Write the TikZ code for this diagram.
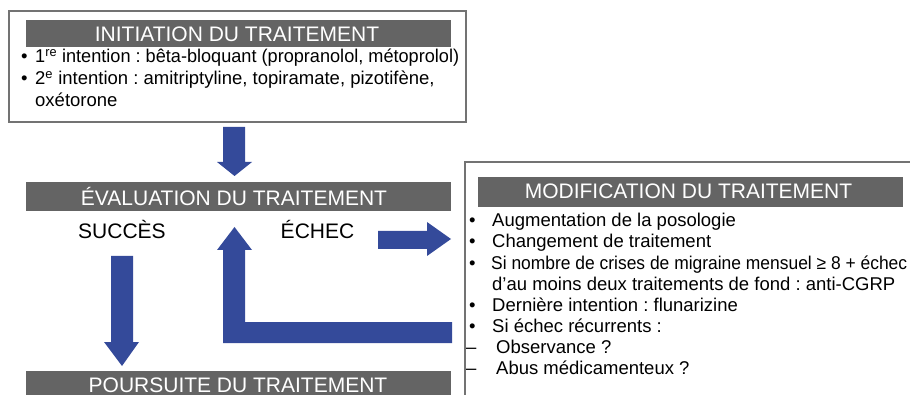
\documentclass[tikz,border=0pt]{standalone}
\usepackage{fontspec}
\usepackage{graphicx}
\setmainfont{Liberation Sans}
\definecolor{arrowblue}{RGB}{52,74,154}
\definecolor{bargrey}{RGB}{100,100,100}
\definecolor{framegrey}{RGB}{115,115,115}
\begin{document}
\frenchspacing
\begin{tikzpicture}[x=1pt,y=-1pt,
  bar/.style={fill=bargrey, draw=none},
  bartext/.style={text=white, font=\fontsize{21}{24}\selectfont, anchor=base, inner sep=0pt},
  lbl/.style={text=black, font=\fontsize{21}{24}\selectfont, anchor=base, inner sep=0pt},
  body/.style={text=black, font=\fontsize{18.5}{22}\selectfont\frenchspacing, anchor=base west, inner sep=0pt},
  frame/.style={draw=framegrey, line width=1.6pt},
  blk/.style={fill=arrowblue, draw=none}]
\useasboundingbox (0,0) rectangle (910,395);
\begin{scope}
\clip (0,0) rectangle (910,395);
% top box
\draw[frame] (9,11) rectangle (466,122);
\fill[bar] (26,20) rectangle (451,47);
\node[bartext] (init) at (237,42) {INITIATION DU TRAITEMENT};
\node[body] (i1b) at (21,63) {•};
\node[body] (i1) at (35,63) {\scalebox{0.98}[1]{1\textsuperscript{re} intention : bêta-bloquant (propranolol, métoprolol)}};
\node[body] (i2b) at (21,85) {•};
\node[body] (i2) at (35,85) {2\textsuperscript{e} intention : amitriptyline, topiramate, pizotifène,};
\node[body] (i3) at (35,107) {oxétorone};
% arrow down to evaluation
\fill[blk] (223,127) -- (245,127) -- (245,162) -- (252,162) -- (234.5,176) -- (217,162) -- (223,162) -- cycle;
% evaluation bar
\fill[bar] (26,182) rectangle (451,211);
\node[bartext] (eval) at (234,206) {ÉVALUATION DU TRAITEMENT};
\node[lbl] (succ) at (122,239) {SUCCÈS};
\node[lbl] (echec) at (317.5,239) {ÉCHEC};
% success arrow
\fill[blk] (111,256) -- (133,256) -- (133,342) -- (139,342) -- (122,366) -- (104,342) -- (111,342) -- cycle;
% echec arrow
\fill[blk] (378,231) -- (427,231) -- (427,222) -- (451,239) -- (427,256) -- (427,249) -- (378,249) -- cycle;
% return L arrow
\fill[blk] (223,343) -- (452,343) -- (452,322) -- (245,322) -- (245,250) -- (252,250) -- (234.5,227) -- (217,250) -- (223,250) -- cycle;
% poursuite bar
\fill[bar] (26,371) rectangle (451,405);
\node[bartext] (pours) at (238,392) {POURSUITE DU TRAITEMENT};
% right box
\draw[frame] (465,162) rectangle (930,420);
\fill[bar] (478,177) rectangle (903,207);
\node[bartext] (modif) at (688.5,199) {MODIFICATION DU TRAITEMENT};
\node[body] (m1b) at (469,227) {•};
\node[body] (m1) at (492,227) {Augmentation de la posologie};
\node[body] (m2b) at (469,248) {•};
\node[body] (m2) at (492,248) {Changement de traitement};
\node[body] (m3b) at (469,269.5) {•};
\node[body] (m3) at (491,269.5) {\resizebox{416pt}{\height}{Si nombre de crises de migraine mensuel ≥ 8 + échec}};
\node[body] (m4) at (492,290.5) {d'au moins deux traitements de fond : anti-CGRP};
\node[body] (m5b) at (469,311.5) {•};
\node[body] (m5) at (492,311.5) {Dernière intention : flunarizine};
\node[body] (m6b) at (469,332.5) {•};
\node[body] (m6) at (492,332.5) {Si échec récurrents :};
\node[body] (m7b) at (466,353.5) {–};
\node[body] (m7) at (496,353.5) {Observance ?};
\node[body] (m8b) at (466,374.5) {–};
\node[body] (m8) at (496,374.5) {Abus médicamenteux ?};
\end{scope}
\end{tikzpicture}
\end{document}
